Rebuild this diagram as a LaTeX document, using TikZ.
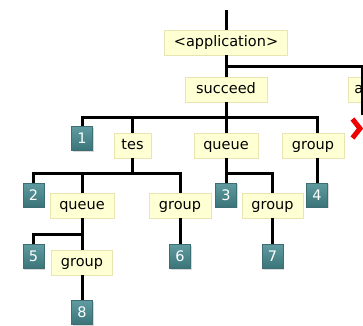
\documentclass[tikz,border=0pt]{standalone}
\usepackage{fontspec}
\setmainfont{DejaVu Sans}
\usetikzlibrary{shadows}
\definecolor{boxfill}{RGB}{255,255,212}
\definecolor{boxline}{RGB}{232,229,178}
\definecolor{tealtop}{RGB}{95,155,160}
\definecolor{tealbot}{RGB}{58,116,120}
\definecolor{tealline}{RGB}{60,110,114}
\definecolor{xred}{RGB}{238,0,0}
\begin{document}
\begin{tikzpicture}[x=1pt,y=-1pt,
  ybox/.style={draw=boxline, fill=boxfill, line width=0.8pt, minimum height=25pt, inner sep=0pt,
    text height=10.5pt, text depth=3pt, font=\fontsize{14.5}{16}\selectfont},
  nbox/.style={draw=tealline, line width=0.5pt, top color=tealtop, bottom color=tealbot, text=white,
    minimum width=21pt, minimum height=24pt, inner sep=0pt, text height=10pt, text depth=0pt,
    font=\fontsize{14.5}{16}\selectfont,
    drop shadow={shadow xshift=1pt, shadow yshift=-1pt, opacity=0.3}},
  conn/.style={line width=3pt, black}]
\clip (0,0) rectangle (363,325);
\useasboundingbox (0,0) rectangle (363,325);

% nodes
\node[ybox, minimum width=123pt] (app) at (226,42.5) {<application>};
\node[ybox, minimum width=82pt] (succ) at (226,89.5) {succeed};
\node[ybox, anchor=west, minimum width=60pt] (abox) at (348,89.5) {\makebox[48pt][l]{a}};

\node[nbox] (n1) at (82,138.5) {1};
\node[ybox, minimum width=37pt] (tes) at (132.5,145.5) {tes};
\node[ybox, minimum width=64pt] (q1) at (226,145.5) {queue};
\node[ybox, minimum width=62pt] (g1) at (313,145.5) {group};

\node[nbox] (n2) at (33.5,195) {2};
\node[ybox, minimum width=64pt] (q2) at (82,205.5) {queue};
\node[ybox, minimum width=62pt] (g2) at (180,205.5) {group};
\node[nbox] (n3) at (226,195) {3};
\node[ybox, minimum width=61pt] (g3) at (272.5,205.5) {group};
\node[nbox] (n4) at (317,195) {4};

\node[nbox] (n5) at (33.5,256.5) {5};
\node[ybox, minimum width=61pt] (g4) at (82,262.5) {group};
\node[nbox] (n6) at (180,256.5) {6};
\node[nbox] (n7) at (272.5,256.5) {7};
\node[nbox] (n8) at (82,312.5) {8};

% connectors
\coordinate (top) at (226,10);
\coordinate (j0) at (226,66);
\coordinate (aend) at (362,115);
\coordinate (b1) at (226,117);
\coordinate (b2) at (132.5,173);
\coordinate (b3) at (226,173);
\coordinate (b4) at (82,234);

\draw[conn] (top) -- (app.north);
\draw[conn] (app.south) -- (succ.north);
\draw[conn] (j0) -| (aend);

\draw[conn] (succ.south) -- (b1);
\draw[conn] (n1.north) |- (b1);
\draw[conn] (tes.north) |- (b1);
\draw[conn] (q1.north) -- (b1);
\draw[conn] (g1.north -| n4.north) |- (b1);

\draw[conn] (tes.south) -- (b2);
\draw[conn] (n2.north) |- (b2);
\draw[conn] (q2.north) |- (b2);
\draw[conn] (g2.north) |- (b2);

\draw[conn] (q1.south) -- (n3.north);
\draw[conn] (g3.north) |- (b3);

\draw[conn] (g1.south -| n4.north) -- (n4.north);

\draw[conn] (q2.south) -- (g4.north);
\draw[conn] (n5.north) |- (b4);

\draw[conn] (g2.south) -- (n6.north);
\draw[conn] (g3.south) -- (n7.north);
\draw[conn] (g4.south) -- (n8.north);

% red chevron mark
\draw[xred, line width=5pt, line join=miter] (352.5,119) -- (360,128.5) -- (352.5,138);
\end{tikzpicture}
\end{document}
